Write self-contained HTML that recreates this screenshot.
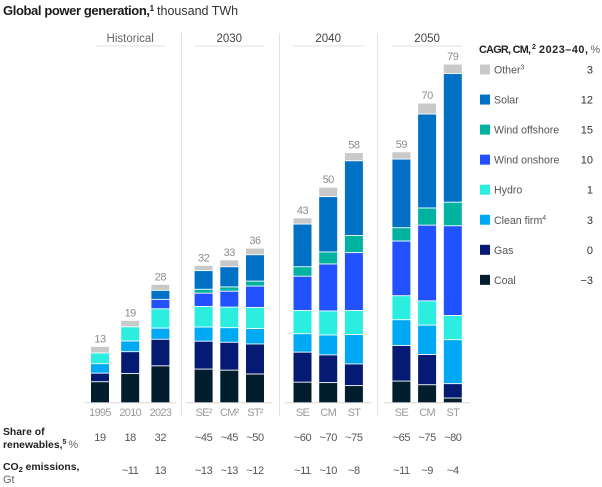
<!DOCTYPE html>
<html lang="en">
<head>
<meta charset="utf-8">
<title>Global power generation</title>
<style>
html,body{margin:0;padding:0;background:#fff;width:602px;height:487px;overflow:hidden}
svg{display:block;font-family:"Liberation Sans",sans-serif}
</style>
</head>
<body>
<svg id="chart" width="602" height="487" viewBox="0 0 602 487" xmlns="http://www.w3.org/2000/svg">
  <text x="3" y="15" font-size="13" fill="#1a1a1a"><tspan font-weight="bold" textLength="147">Global power generation,</tspan><tspan font-weight="bold" font-size="8" dy="-4">1</tspan><tspan dy="4" dx="3" fill="#333" font-size="12.5">thousand TWh</tspan></text>
  <text x="3" y="435" font-size="10.4" font-weight="bold" fill="#222">Share of</text>
  <text x="3" y="448" font-size="10.4" fill="#666"><tspan font-weight="bold" fill="#222">renewables,</tspan><tspan font-weight="bold" fill="#222" font-size="7" dy="-4">5</tspan><tspan dy="4" dx="2" font-size="11">%</tspan></text>
  <text x="3" y="470" font-size="10.4" font-weight="bold" fill="#222">CO<tspan font-size="7.5" dy="2">2</tspan><tspan dy="-2"> emissions,</tspan></text>
  <text x="3" y="483" font-size="11" fill="#666">Gt</text>
  <text x="479" y="53" font-size="10.8" fill="#666"><tspan font-weight="bold" fill="#222" x="479" textLength="52">CAGR, CM,</tspan><tspan font-weight="bold" fill="#222" font-size="7" x="532" dy="-4">2</tspan><tspan font-weight="bold" fill="#222" x="539" dy="4" textLength="49">2023–40,</tspan><tspan x="590.5">%</tspan></text>
</svg>
<script>
// Chart data
var categories = ['1995','2010','2023','SE²','CM²','ST²','SE','CM','ST','SE','CM','ST'];
var coal        = [4.9, 6.8, 8.6, 7.85, 7.6, 6.7, 4.8, 4.7, 4.0, 5.05, 4.2, 1.1];
var gas         = [2.0, 5.1, 6.2, 6.5, 6.5, 7.0, 7.0, 6.45, 5.05, 8.3, 7.05, 3.35];
var cleanFirm   = [2.2, 2.5, 2.6, 3.3, 3.4, 3.6, 4.3, 4.65, 6.85, 6.0, 6.85, 10.25];
var hydro       = [2.5, 3.3, 4.5, 4.8, 4.8, 4.9, 5.4, 5.6, 5.6, 5.6, 5.65, 5.65];
var windOnshore = [0, 0, 2.2, 3.1, 3.7, 5.0, 8.0, 10.95, 13.5, 12.75, 17.65, 20.9];
var windOffshore= [0, 0, 0, 0.9, 1.0, 1.15, 2.2, 2.8, 4.0, 3.1, 4.0, 5.5];
var solar       = [0, 0, 2.1, 4.35, 4.7, 6.15, 9.95, 12.9, 17.4, 16.0, 21.9, 30.0];
var other       = [1.5, 1.5, 1.4, 1.2, 1.6, 1.55, 1.45, 2.2, 1.9, 1.7, 2.55, 2.2];
var totalLabels = ['13','19','28','32','33','36','43','50','58','59','70','79'];
var shareLabels = ['19','18','32','~45','~45','~50','~60','~70','~75','~65','~75','~80'];
var co2Labels   = ['','~11','13','~13','~13','~12','~11','~10','~8','~11','~9','~4'];
var groupLabels = ['Historical','2030','2040','2050'];
var seriesNames = ['Other','Solar','Wind offshore','Wind onshore','Hydro','Clean firm','Gas','Coal'];
var legendSups  = ['3','','','','','4','',''];
var cagrLabels  = ['3','12','15','10','1','3','0','−3'];

var NS = 'http://www.w3.org/2000/svg';
var svg = document.getElementById('chart');

function slug(s){ return String(s).toLowerCase().replace(/[^a-z0-9]+/g,'-').replace(/^-|-$/g,''); }
function make(tag, attrs, parent){
  var e = document.createElementNS(NS, tag);
  for (var k in attrs) e.setAttribute(k, attrs[k]);
  (parent || svg).appendChild(e);
  return e;
}
// Axis functions
var BASE = 402.3, UNIT = 4.29, BAR_W = 18;
function yScale(v){ return BASE - v * UNIT; }
function groupOf(i){ return Math.floor(i / 3); }
function groupLeft(g){ return g === 0 ? 91 : 95.7 + 98.9 * g; }
function groupStep(g){ return g === 0 ? 30.2 : 25.7; }
function barLeft(i){ var g = groupOf(i); return groupLeft(g) + (i % 3) * groupStep(g); }
function barCenter(i){ return barLeft(i) + BAR_W / 2; }
function groupCenter(g){ return groupLeft(g) + groupStep(g) + BAR_W / 2; }

// Stack order bottom to top
var stack = [
  {name:'coal', values:coal, color:'#021e2d'},
  {name:'gas', values:gas, color:'#051a72'},
  {name:'clean-firm', values:cleanFirm, color:'#00a9f4'},
  {name:'hydro', values:hydro, color:'#2beee0'},
  {name:'wind-onshore', values:windOnshore, color:'#2251ff'},
  {name:'wind-offshore', values:windOffshore, color:'#00b3a0'},
  {name:'solar', values:solar, color:'#0071c4'},
  {name:'other', values:other, color:'#c9c9c9'}
];

// Group headers, rules and separators
groupLabels.forEach(function(label, g){
  var cx = groupCenter(g);
  var t = make('text', {x:cx, y:42, 'text-anchor':'middle', 'font-size':11.5, fill: g === 0 ? '#666' : '#444'});
  t.textContent = label;
  
  
  var r = make('line', {x1:cx-35, x2:cx+35, y1:46, y2:46, stroke:'#e2e2e2', 'stroke-width':1});
  
  
  var b = make('line', {x1:cx-(g===0?46:43), x2:cx+(g===0?46:43), y1:BASE+0.5, y2:BASE+0.5, stroke:'#d8d8d8', 'stroke-width':1});
  
  
  if (g > 0) {
    var sx = 83.5 + 98 * g;
    var s = make('line', {x1:sx, x2:sx, y1:33, y2:416, stroke:'#e2e2e2', 'stroke-width':1});
    
    
  }
});

// Bars
categories.forEach(function(cat, i){
  var cum = 0;
  stack.forEach(function(series){
    var v = series.values[i];
    if (v > 0) {
      var top = yScale(cum + v), bottom = yScale(cum);
      var rect = make('rect', {x:barLeft(i), y:top + 0.9, width:BAR_W, height:Math.max(bottom - top - 0.9, 0.5), fill:series.color});
      
      
    }
    cum += v;
  });
  var total = make('text', {x:barCenter(i), y:yScale(cum) - 3.5, 'text-anchor':'middle', 'font-size':11, 'letter-spacing':-0.5, fill:'#8c8c8c'});
  total.textContent = totalLabels[i];
  
  
  var tick = make('text', {x:barCenter(i), y:416, 'text-anchor':'middle', 'font-size':11, 'letter-spacing':-0.7, fill:'#9a9a9a'});
  tick.textContent = cat;
  
  
  var share = make('text', {x:barCenter(i), y:441, 'text-anchor':'middle', 'font-size':11, 'letter-spacing':-0.4, fill:'#555'});
  share.textContent = shareLabels[i];
  
  
  if (co2Labels[i]) {
    var co2 = make('text', {x:barCenter(i), y:474, 'text-anchor':'middle', 'font-size':11, 'letter-spacing':-0.4, fill:'#555'});
    co2.textContent = co2Labels[i];
    
    
  }
});

// Legend
function legendY(i){ return 69.5 + i * 30.05; }
seriesNames.forEach(function(name, i){
  var color = stack[stack.length - 1 - i].color;
  var cy = legendY(i);
  var sw = make('rect', {x:480, y:cy - 5, width:10, height:10, fill:color});
  
  
  var lab = make('text', {x:494, y:cy + 4, 'font-size':10.6, fill:'#555'});
  lab.textContent = name;
  
  
  if (legendSups[i]) {
    var sup = make('tspan', {'font-size':7, dy:-4}, lab);
    sup.textContent = legendSups[i];
  }
  var val = make('text', {x:593, y:cy + 4, 'text-anchor':'end', 'font-size':11, fill:'#333'});
  val.textContent = cagrLabels[i];
  
  
});
</script>
</body>
</html>
